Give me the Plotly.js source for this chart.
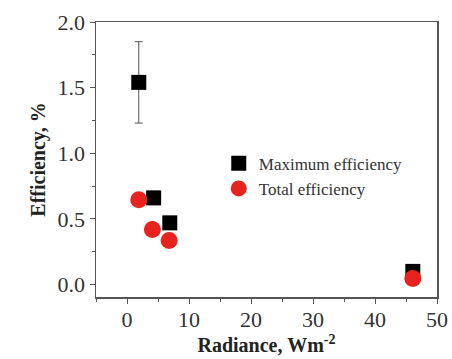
<!DOCTYPE html>
<html><head><meta charset="utf-8">
<script src="https://cdn.plot.ly/plotly-3.0.1.min.js"></script>
<style>html,body{margin:0;padding:0;background:#fff}#chart{width:452px;height:359px}</style>
</head><body><div id="chart"></div>
<script>
const radianceMax = [1.9, 4.3, 6.9, 46.1];
const effMax = [1.54, 0.66, 0.47, 0.1];
const effMaxErr = [0.31, 0.05, 0.02, 0.01];
const radianceTotal = [1.9, 4.1, 6.8, 46.1];
const effTotal = [0.645, 0.42, 0.335, 0.046];

const font = 'Liberation Serif, Times New Roman, serif';
const data = [
  {x: radianceMax, y: effMax, name: 'Maximum efficiency', type: 'scatter', mode: 'markers',
   marker: {symbol: 'square', size: 15, color: '#000'},
   error_y: {type: 'data', array: effMaxErr, visible: true, color: '#555', thickness: 1, width: 4}},
  {x: radianceTotal, y: effTotal, name: 'Total efficiency', type: 'scatter', mode: 'markers',
   marker: {symbol: 'circle', size: 17, color: '#e8221e'}}
];
const layout = {
  width: 452, height: 359,
  margin: {l: 96, r: 15, t: 22, b: 62},
  paper_bgcolor: '#fff', plot_bgcolor: '#fff',
  font: {family: font, color: '#333'},
  showlegend: true,
  legend: {x: 0.36, y: 0.55, xanchor: 'left', yanchor: 'top', bgcolor: 'rgba(0,0,0,0)',
           font: {family: font, size: 17, color: '#333'}, itemsizing: 'trace', tracegroupgap: 0},
  xaxis: {range: [-5, 50], tickvals: [0, 10, 20, 30, 40, 50], ticks: 'outside', ticklen: 5,
          minor: {dtick: 5, ticks: 'outside', ticklen: 3, tickcolor: '#555'},
          showgrid: false, zeroline: false, showline: true, linecolor: '#555', linewidth: 1.5, mirror: true,
          tickcolor: '#555', tickfont: {family: font, size: 22, color: '#333'}, ticklabelstandoff: -3,
          title: {text: '<b>Radiance, Wm<sup>-2</sup></b>', font: {family: font, size: 20, color: '#222'}, standoff: 4}},
  yaxis: {range: [-0.095, 2.0], tickvals: [0, 0.5, 1.0, 1.5, 2.0], tickformat: '.1f', ticks: 'outside', ticklen: 5,
          minor: {dtick: 0.25, ticks: 'outside', ticklen: 3, tickcolor: '#555'},
          showgrid: false, zeroline: false, showline: true, linecolor: '#555', linewidth: 1.5, mirror: true,
          tickcolor: '#555', tickfont: {family: font, size: 22, color: '#333'},
          title: {text: '<b>Efficiency, %</b>', font: {family: font, size: 20, color: '#222'}, standoff: 6}}
};
Plotly.newPlot('chart', data, layout, {displayModeBar: false, staticPlot: true});
</script></body></html>
